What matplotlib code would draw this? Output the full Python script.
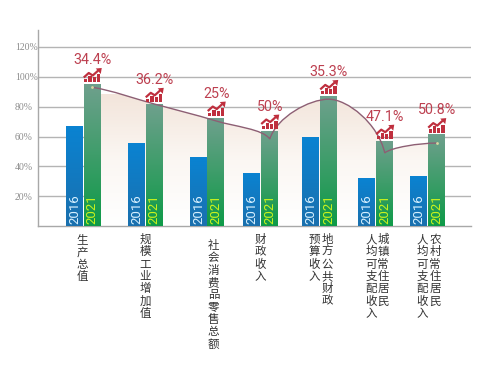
import numpy as np
import matplotlib
matplotlib.use("Agg")
import matplotlib.pyplot as plt
from matplotlib.colors import LinearSegmentedColormap
from matplotlib.patches import PathPatch, Polygon, Rectangle
from matplotlib.path import Path

# values
categories = [["生产总值"], ["规模工业增加值"], ["社会消费品零售总额"], ["财政收入"],
              ["地方公共财政", "预算收入"], ["城镇常住居民", "人均可支配收入"],
              ["农村常住居民", "人均可支配收入"]]
values_2016 = [67.3, 55.7, 46, 35.8, 60, 32, 33.7]
values_2021 = [95.2, 81.9, 72.7, 64, 87.2, 57.2, 61.6]
curve_values = [93, 81.8, 70.4, 58.3, 85, 49, 55.6]
growth = ["34.4%", "36.2%", "25%", "50%", "35.3%", "47.1%", "50.8%"]
yticks = [20, 40, 60, 80, 100, 120]
# groups are not evenly spaced in the picture
group_x = [45.5, 107.5, 169.5, 223, 282, 338, 390]
label_dx = [-1, -0.5, 6, -1, [7, -6], [7, -5], [7, -6]]
label_top = [7, 7, 13, 7, 7, 7, 7]

W, H = 493, 366
BAR_W = 17.5
PCT_PX = (226 - 47.0) / 120  # pixels per percent
CHAR_PITCH = 12.3

fig = plt.figure(figsize=(W / 100, H / 100), dpi=100)
ax = fig.add_axes([38 / W, 1 - 226 / H, (471 - 38) / W, 196 / H])
ax.set_xlim(0, 433)
ax.set_ylim(0, 196 / PCT_PX)


def gradient_bar(x, height, top_color, bottom_color):
    cmap = LinearSegmentedColormap.from_list("g", [bottom_color, top_color])
    img = ax.imshow(np.linspace(0, 1, 64)[:, None], origin="lower", cmap=cmap, aspect="auto",
                    extent=[x - BAR_W / 2, x + BAR_W / 2, 0, height], zorder=3)
    img.set_clip_path(Rectangle((x - BAR_W / 2, 0), BAR_W - 0.5, height, transform=ax.transData))


def curve_path(xs, ys):
    # smooth line, sharp at the two low points
    verts = [(xs[0], ys[0])]
    codes = [Path.MOVETO]
    n = len(xs)
    slope = []
    for i in range(n):
        if i == 0:
            slope.append((ys[1] - ys[0]) / (xs[1] - xs[0]) * 0.6)
        elif i == n - 1:
            slope.append(0)
        elif (ys[i] - ys[i - 1]) * (ys[i + 1] - ys[i]) < 0:
            slope.append(0)
        else:
            slope.append((ys[i + 1] - ys[i - 1]) / (xs[i + 1] - xs[i - 1]))
    lows = [3, 5]
    for i in range(n - 1):
        dx = xs[i + 1] - xs[i]
        dy = ys[i + 1] - ys[i]
        if i in lows:
            c1 = (xs[i] + dx * 0.12, ys[i] + dy * 0.55)
        else:
            c1 = (xs[i] + dx / 3, ys[i] + slope[i] * dx / 3)
        if i + 1 in lows:
            c2 = (xs[i + 1] - dx * 0.12, ys[i + 1] - dy * 0.55)
        else:
            c2 = (xs[i + 1] - dx / 3, ys[i + 1] - slope[i + 1] * dx / 3)
        verts += [c1, c2, (xs[i + 1], ys[i + 1])]
        codes += [Path.CURVE4] * 3
    return verts, codes


def icon(x, base):
    # little rising chart above each 2021 bar, sizes in pixels
    color = "#bf2f3e"
    py = 1 / PCT_PX
    for dx, h in zip([-6.5, -2.3, 2, 6.3], [3.5, 6.5, 5, 8]):
        ax.add_patch(Rectangle((x + dx - 1.6, base), 3.2, h * py, color=color, lw=0, zorder=6))
    pts = [(-8.5, 5), (-3.5, 9.5), (0.5, 7), (6, 12)]
    ax.plot([x + p[0] for p in pts], [base + p[1] * py for p in pts], color=color, lw=1.6, zorder=6,
            solid_capstyle="butt")
    ax.add_patch(Polygon([(x + 3.5, base + 14 * py), (x + 9.5, base + 14.5 * py), (x + 8.5, base + 8.5 * py)],
                         color=color, lw=0, zorder=6))


ax.set_yticks(yticks)
ax.set_yticklabels([f"{t}%" for t in yticks], family="Liberation Serif", fontsize=7, color="#8c8c8c", ha="left")
ax.tick_params(axis="y", length=0, pad=16.5)
ax.set_xticks([])
ax.grid(axis="y", color="#b4b4b4", lw=1)
ax.set_axisbelow(True)
for side in ["top", "right"]:
    ax.spines[side].set_visible(False)
for side in ["left", "bottom"]:
    ax.spines[side].set_color("#a8a8a8")
    ax.spines[side].set_linewidth(1)

# shaded area under the curve
curve_x = [g + BAR_W / 2 for g in group_x]
verts, codes = curve_path(curve_x, curve_values)
area = PathPatch(Path(verts + [(curve_x[-1], 0), (curve_x[0], 0), verts[0]],
                      codes + [Path.LINETO, Path.LINETO, Path.CLOSEPOLY]), fc="none", ec="none",
                 transform=ax.transData)
ax.add_patch(area)
area_cmap = LinearSegmentedColormap.from_list("a", ["#ffffff", "#fbf7f3", "#f3e5db"])
img = ax.imshow(np.linspace(0, 1, 64)[:, None], origin="lower", cmap=area_cmap, aspect="auto",
                extent=[curve_x[0], curve_x[-1], 0, 88], zorder=1.5, vmin=0, vmax=1)
img.set_clip_path(area)

for x, v16, v21, pct in zip(group_x, values_2016, values_2021, growth):
    gradient_bar(x - BAR_W / 2, v16, "#0a83d2", "#1a70ae")
    gradient_bar(x + BAR_W / 2, v21, "#6fa08d", "#0e9a48")
    ax.text(x - BAR_W / 2, 1.2, "2016", rotation=90, ha="center", va="bottom", color="#d6f0ff",
            family="Roboto", fontsize=9.5, zorder=7)
    ax.text(x + BAR_W / 2, 1.2, "2021", rotation=90, ha="center", va="bottom", color="#c9f31d",
            family="Roboto", fontsize=9.5, zorder=7)
    icon(x + BAR_W / 2, v21 + 1.5 / PCT_PX)
    ax.annotate(pct, (x + BAR_W / 2, v21), xytext=(0, 24), textcoords="offset pixels", ha="center", va="center",
                color="#bd4050", family="Roboto", fontsize=10.3, zorder=7)

ax.add_patch(PathPatch(Path(verts, codes), fc="none", ec="#8d5f74", lw=1, zorder=5))
ax.plot([curve_x[0], curve_x[-1]], [curve_values[0], curve_values[-1]], ls="", marker="o", ms=1,
        color="#d8d6a0", zorder=6)

# vertical category labels, one character at a time so the pitch stays fixed
for x, cols, dxs, top in zip(group_x, categories, label_dx, label_top):
    if not isinstance(dxs, list):
        dxs = [dxs]
    for col, dx in zip(cols, dxs):
        for i, ch in enumerate(col):
            ax.annotate(ch, (x + dx, 0), xytext=(0, -top - i * CHAR_PITCH), textcoords="offset pixels",
                        ha="center", va="top", family="Noto Sans CJK SC", fontsize=8.3, color="#333333",
                        annotation_clip=False)

ax.set_xlim(0, 433)
ax.set_ylim(0, 196 / PCT_PX)
fig.savefig("out.png", dpi=100)
